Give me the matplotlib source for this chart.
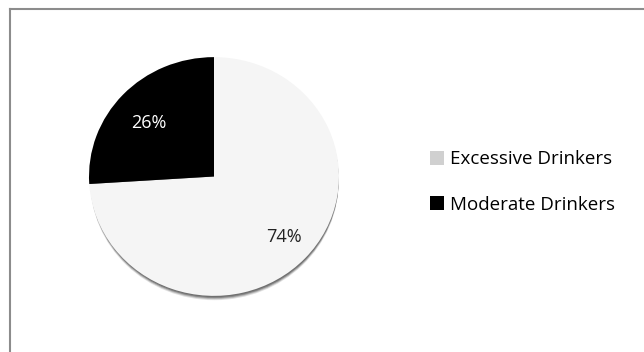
import matplotlib
matplotlib.use("Agg")
from matplotlib import pyplot as plt
from matplotlib.patches import Patch, Ellipse
from matplotlib.lines import Line2D

labels = ["Excessive Drinkers", "Moderate Drinkers"]
shares = [74, 26]
colors = ["#f5f5f5", "#000000"]
legend_colors = ["#d0d0d0", "#000000"]

plt.rcParams['font.family'] = ['Open Sans', 'DejaVu Sans']

W, H = 644, 352
fig = plt.figure(figsize=(W / 100, H / 100), dpi=100)
ax = fig.add_axes([0, 0, 1, 1])

# pie is drawn slightly squashed vertically, as in the original
sq = 0.955
cx, cy, r = 214, (H - 176.5) / sq, 125

# soft shadow under the pie
for dy, col in [(5, "#e0e0e0"), (4, "#b8b8b8"), (3, "#8a8a8a"), (2, "#707070")]:
    ax.add_patch(Ellipse((cx + 0.5, cy - dy / sq), 2 * r - 3, 2 * r - 3, color=col, zorder=1))

wedges, texts, autotexts = ax.pie(
    shares, colors=colors, startangle=90 + 360 * shares[1] / 100,
    center=(cx, cy), radius=r, autopct="%d%%", pctdistance=0.72,
    wedgeprops=dict(linewidth=0), textprops=dict(fontsize=13))
for w in wedges:
    w.set_zorder(2)
autotexts[0].set_color("#222222")
autotexts[1].set_color("white")
for t in autotexts:
    t.set_zorder(3)
# small nudges to sit where the original labels are
x0, y0 = autotexts[0].get_position()
autotexts[0].set_position((x0 + 4, y0 - 2 / sq))
x1, y1 = autotexts[1].get_position()
autotexts[1].set_position((x1, y1 - 5 / sq))

ax.set_xlim(0, W)
ax.set_ylim(0, H / sq)
ax.set_aspect("auto")
ax.axis("off")

# chart border
fig.add_artist(Line2D([9.5 / W, 9.5 / W], [0, 1 - 8.5 / H], color="#8c8c8c", lw=1.5,
                      transform=fig.transFigure))
fig.add_artist(Line2D([9.5 / W, 1], [1 - 8.5 / H, 1 - 8.5 / H], color="#8c8c8c", lw=1.5,
                      transform=fig.transFigure))

handles = [Patch(facecolor=c, edgecolor="none") for c in legend_colors]
fig.legend(handles, labels, loc="center left", bbox_to_anchor=(413 / W, 1 - 182 / H),
           frameon=False, fontsize=13.5, handlelength=0.75, handleheight=0.75,
           handletextpad=0.35, labelspacing=1.45)

fig.savefig("out.png", dpi=100, facecolor="white")
